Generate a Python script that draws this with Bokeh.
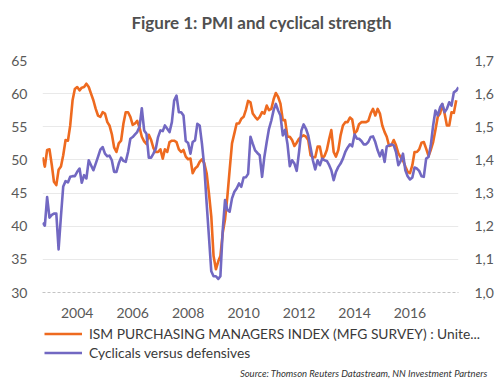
import pandas as pd
from bokeh.plotting import figure
from bokeh.layouts import column, row
from bokeh.models import (Range1d, LinearAxis, FixedTicker, CustomJSTickFormatter,
                          Legend, LegendItem, Label)
from bokeh.embed import file_html
from bokeh.resources import INLINE

# ---- data (monthly, starting Oct 2002) ----
start_month = "2002-10-01"
pmi = [50.4, 49.0, 51.5, 51.6, 49.2, 46.7, 46.2, 48.5, 49.0, 50.7,
       53.0, 52.9, 55.2, 59.0, 60.7, 61.0, 60.5, 60.9, 61.0, 61.5,
       61.0, 60.0, 59.0, 57.7, 56.7, 56.5, 57.2, 57.0, 55.7, 55.2,
       53.9, 51.9, 51.2, 52.5, 52.9, 55.5, 57.2, 57.2, 56.5, 55.3,
       55.5, 55.9, 54.9, 53.5, 52.8, 52.4, 53.8, 53.0, 51.8, 51.2,
       51.2, 51.6, 50.2, 51.6, 51.2, 52.7, 52.9, 52.9, 52.7, 51.6,
       51.2, 51.5, 50.5, 50.1, 50.2, 48.0, 48.7, 49.0, 49.7, 50.1,
       49.5, 48.0, 45.0, 41.5, 35.5, 33.5, 34.7, 35.5, 39.0, 41.0,
       44.5, 48.5, 52.5, 54.0, 55.5, 55.5, 56.2, 56.5, 57.6, 58.9,
       58.7, 57.0, 56.5, 56.1, 56.5, 57.2, 57.0, 58.2, 57.5, 57.7,
       59.2, 60.1, 59.5, 58.5, 56.0, 56.0, 53.5, 53.5, 53.0, 52.1,
       52.6, 53.2, 53.5, 53.7, 53.5, 53.0, 50.7, 50.4, 50.4, 52.0,
       52.0, 50.2, 50.6, 51.5, 53.2, 54.5, 51.2, 50.5, 51.5, 53.7,
       55.2, 55.7, 55.7, 56.4, 56.1, 54.0, 54.4, 55.4, 55.7, 55.7,
       55.7, 55.9, 57.0, 57.7, 56.7, 57.7, 57.0, 55.2, 54.2, 53.5,
       52.1, 52.2, 53.0, 52.2, 51.0, 50.4, 49.9, 49.0, 48.2, 48.0,
       49.2, 51.2, 51.2, 51.6, 52.6, 52.7, 51.7, 50.6, 51.5, 52.7,
       54.5, 56.5, 57.0, 58.4, 57.0, 55.2, 55.2, 57.2, 57.1, 59.0]
cyc = [1.210, 1.202, 1.288, 1.226, 1.234, 1.238, 1.238, 1.130, 1.230, 1.320,
       1.336, 1.332, 1.349, 1.351, 1.351, 1.364, 1.374, 1.331, 1.354, 1.344,
       1.399, 1.384, 1.369, 1.389, 1.409, 1.431, 1.439, 1.419, 1.411, 1.413,
       1.399, 1.364, 1.364, 1.389, 1.407, 1.397, 1.394, 1.424, 1.464, 1.469,
       1.477, 1.484, 1.500, 1.556, 1.489, 1.479, 1.407, 1.407, 1.419, 1.434,
       1.469, 1.489, 1.487, 1.504, 1.494, 1.484, 1.514, 1.579, 1.594, 1.544,
       1.544, 1.534, 1.457, 1.451, 1.419, 1.454, 1.459, 1.509, 1.504, 1.449,
       1.379, 1.269, 1.169, 1.064, 1.049, 1.049, 1.041, 1.049, 1.189, 1.279,
       1.249, 1.244, 1.284, 1.304, 1.314, 1.329, 1.319, 1.347, 1.348, 1.358,
       1.470, 1.449, 1.429, 1.421, 1.414, 1.349, 1.409, 1.454, 1.494, 1.519,
       1.551, 1.569, 1.549, 1.534, 1.474, 1.491, 1.449, 1.381, 1.399, 1.389,
       1.367, 1.424, 1.489, 1.507, 1.494, 1.474, 1.437, 1.399, 1.371, 1.399,
       1.384, 1.404, 1.399, 1.397, 1.384, 1.369, 1.339, 1.364, 1.379, 1.389,
       1.404, 1.424, 1.437, 1.447, 1.441, 1.477, 1.464, 1.464, 1.457, 1.447,
       1.447, 1.454, 1.469, 1.471, 1.454, 1.429, 1.411, 1.429, 1.394, 1.441,
       1.444, 1.447, 1.444, 1.424, 1.384, 1.397, 1.419, 1.369, 1.351, 1.341,
       1.347, 1.377, 1.374, 1.367, 1.351, 1.349, 1.404, 1.409, 1.444, 1.504,
       1.549, 1.534, 1.559, 1.569, 1.544, 1.554, 1.574, 1.564, 1.604, 1.609,
       1.619]
year_ticks = [2004, 2006, 2008, 2010, 2012, 2014, 2016]
left_ticks = [30, 35, 40, 45, 50, 55, 60, 65]
right_ticks = [1.0, 1.1, 1.2, 1.3, 1.4, 1.5, 1.6, 1.7]
series_names = ["ISM PURCHASING MANAGERS INDEX (MFG SURVEY) : Unite...",
                "Cyclicals versus defensives"]
title_text = "Figure 1: PMI and cyclical strength"
source_text = "Source: Thomson Reuters Datastream, NN Investment Partners"

ORANGE = "#EE6A1F"
PURPLE = "#7268C2"
TXT = "#595959"
FONT = "Lato"
W = 500
NAN = float("nan")


def blank(height):
    f = figure(width=W, height=height, output_backend="svg", toolbar_location=None,
               x_range=Range1d(0, 1), y_range=Range1d(0, 1),
               min_border=0, x_axis_location=None, y_axis_location=None)
    f.outline_line_color = None
    f.xgrid.visible = False
    f.ygrid.visible = False
    return f


# ---- title strip ----
top = blank(40)
top.add_layout(Label(x=261, y=18, x_units="screen", y_units="screen",
                     text=title_text, text_align="center", text_baseline="middle",
                     text_font=FONT, text_font_style="bold", text_font_size="17px",
                     text_color="#505050"))

# ---- main chart ----
dates_cyc = pd.date_range(start_month, periods=len(cyc), freq="MS")
dates_pmi = dates_cyc[:len(pmi)]

p = figure(width=W, height=280, x_axis_type="datetime",
           output_backend="svg", toolbar_location=None,
           x_range=Range1d(dates_cyc[0], dates_cyc[-1]),
           y_range=Range1d(left_ticks[0], left_ticks[-1]),
           min_border_left=42, min_border_right=42,
           min_border_top=20, min_border_bottom=27)
p.outline_line_color = None
p.extra_y_ranges = {"r": Range1d(right_ticks[0], right_ticks[-1])}

xa = p.xaxis[0]
xa.ticker = FixedTicker(ticks=[pd.Timestamp(f"{y}-01-01").value / 1e6 for y in year_ticks])
xa.formatter = CustomJSTickFormatter(code="return new Date(tick).getUTCFullYear().toString();")
xa.axis_line_color = "#c4c4c4"
xa.axis_line_dash = "3 2"
xa.axis_line_width = 1
xa.major_tick_line_color = None
xa.minor_tick_line_color = None
xa.major_label_standoff = 9
xa.major_label_text_font = FONT
xa.major_label_text_font_size = "14px"
xa.major_label_text_color = TXT

ya = p.yaxis[0]
ya.ticker = FixedTicker(ticks=left_ticks)
ya.axis_line_color = None
ya.major_tick_line_color = None
ya.minor_tick_line_color = None
ya.major_label_standoff = 9
ya.major_label_text_font = FONT
ya.major_label_text_font_size = "14px"
ya.major_label_text_color = TXT

ra = LinearAxis(y_range_name="r", ticker=FixedTicker(ticks=right_ticks),
                formatter=CustomJSTickFormatter(code="return tick.toFixed(1).replace('.', ',');"))
ra.axis_line_color = None
ra.major_tick_line_color = None
ra.minor_tick_line_color = None
ra.major_label_standoff = 10
ra.major_label_text_font = FONT
ra.major_label_text_font_size = "14px"
ra.major_label_text_color = TXT
p.add_layout(ra, "right")

p.xgrid.grid_line_color = None
p.ygrid.ticker = FixedTicker(ticks=left_ticks[1:])
p.ygrid.grid_line_color = "#e9e9e9"
p.ygrid.grid_line_width = 1

p.line(dates_pmi, pmi, line_color=ORANGE, line_width=2.6, line_join="round")
p.line(dates_cyc, cyc, line_color=PURPLE, line_width=2.6, line_join="round",
       y_range_name="r")

# ---- legend + source strip ----
bot = blank(65)
k1 = bot.line(x=[NAN], y=[NAN], line_color=ORANGE, line_width=2.6)
k2 = bot.line(x=[NAN], y=[NAN], line_color=PURPLE, line_width=2.6)
legend = Legend(items=[LegendItem(label=series_names[0], renderers=[k1]),
                       LegendItem(label=series_names[1], renderers=[k2])],
                location=(44, 23.5), orientation="vertical",
                border_line_color=None, background_fill_alpha=0,
                padding=0, margin=0, spacing=0,
                glyph_width=38, glyph_height=19, label_height=19,
                label_standoff=7, label_text_font=FONT,
                label_text_font_size="13.8px", label_text_color="#3a3a3a")
bot.add_layout(legend)
bot.add_layout(Label(x=487, y=12, x_units="screen", y_units="screen",
                     text=source_text, text_align="right", text_baseline="middle",
                     text_font=FONT, text_font_style="italic", text_font_size="9.5px",
                     text_color="#333333"))

layout = column(row(top), p, row(bot), spacing=0)
open("out.html", "w").write(file_html(layout, INLINE))
